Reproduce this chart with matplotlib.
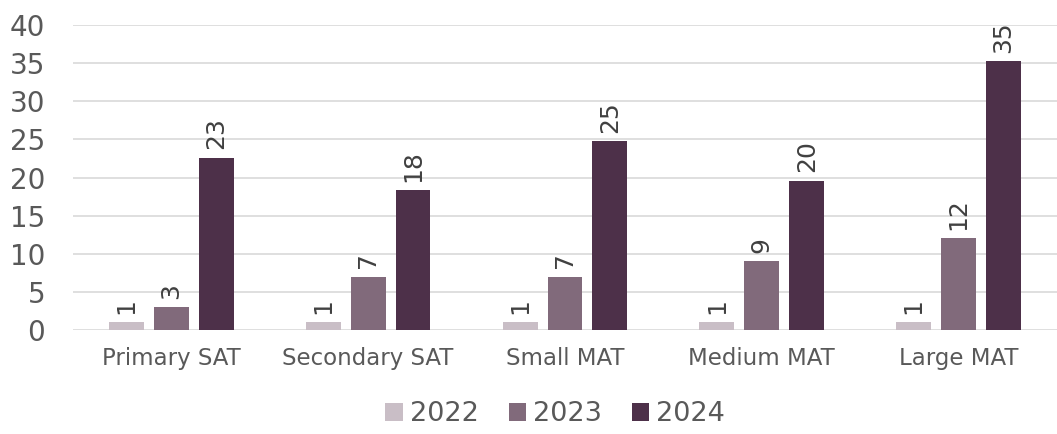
import numpy as np
import matplotlib.pyplot as plt

categories = ["Primary SAT", "Secondary SAT", "Small MAT", "Medium MAT", "Large MAT"]
years = ["2022", "2023", "2024"]
v2022 = [1, 1, 1, 1, 1]
v2023 = [3, 7, 7, 9, 12]
v2024 = [22.6, 18.3, 24.8, 19.6, 35.3]
colors = ["#c9bec6", "#816a7b", "#4d3049"]
grey = "#595959"

plt.rcParams['font.family'] = ['DejaVu Sans']

fig = plt.figure(figsize=(10.57, 4.34), dpi=100)
ax = fig.add_axes([0.069, 0.24, 0.931, 0.702])

x = np.arange(len(categories))
width = 0.177
step = 0.228
for i, (vals, yr, c) in enumerate(zip([v2022, v2023, v2024], years, colors)):
    pos = x + (i - 1) * step
    bars = ax.bar(pos, vals, width, color=c, label=yr, zorder=3)
    for b, v in zip(bars, vals):
        ax.annotate(f"{v:.0f}", (b.get_x() + b.get_width() / 2, v),
                    xytext=(0, 6), textcoords="offset points",
                    rotation=90, ha="center", va="bottom",
                    fontsize=18, color="#404040")

ax.set_xlim(-0.5, len(categories) - 0.5)
ax.set_ylim(0, 40)
ax.set_yticks(range(0, 41, 5))
ax.grid(axis="y", color="#d9d9d9", linewidth=1.2, zorder=0)
for s in ax.spines.values():
    s.set_visible(False)
ax.tick_params(axis="both", length=0, colors=grey)
ax.tick_params(axis="y", labelsize=20, pad=20)
ax.tick_params(axis="x", labelsize=16.5, pad=12)
ax.set_xticks(x)
ax.set_xticklabels(categories)

leg = ax.legend(loc="upper center", bbox_to_anchor=(0.49, -0.155), ncol=3,
                frameon=False, fontsize=19.5, handlelength=0.65, handleheight=0.65,
                handletextpad=0.25, columnspacing=1.1)
for t in leg.get_texts():
    t.set_color(grey)

fig.savefig("out.png", dpi=100)
